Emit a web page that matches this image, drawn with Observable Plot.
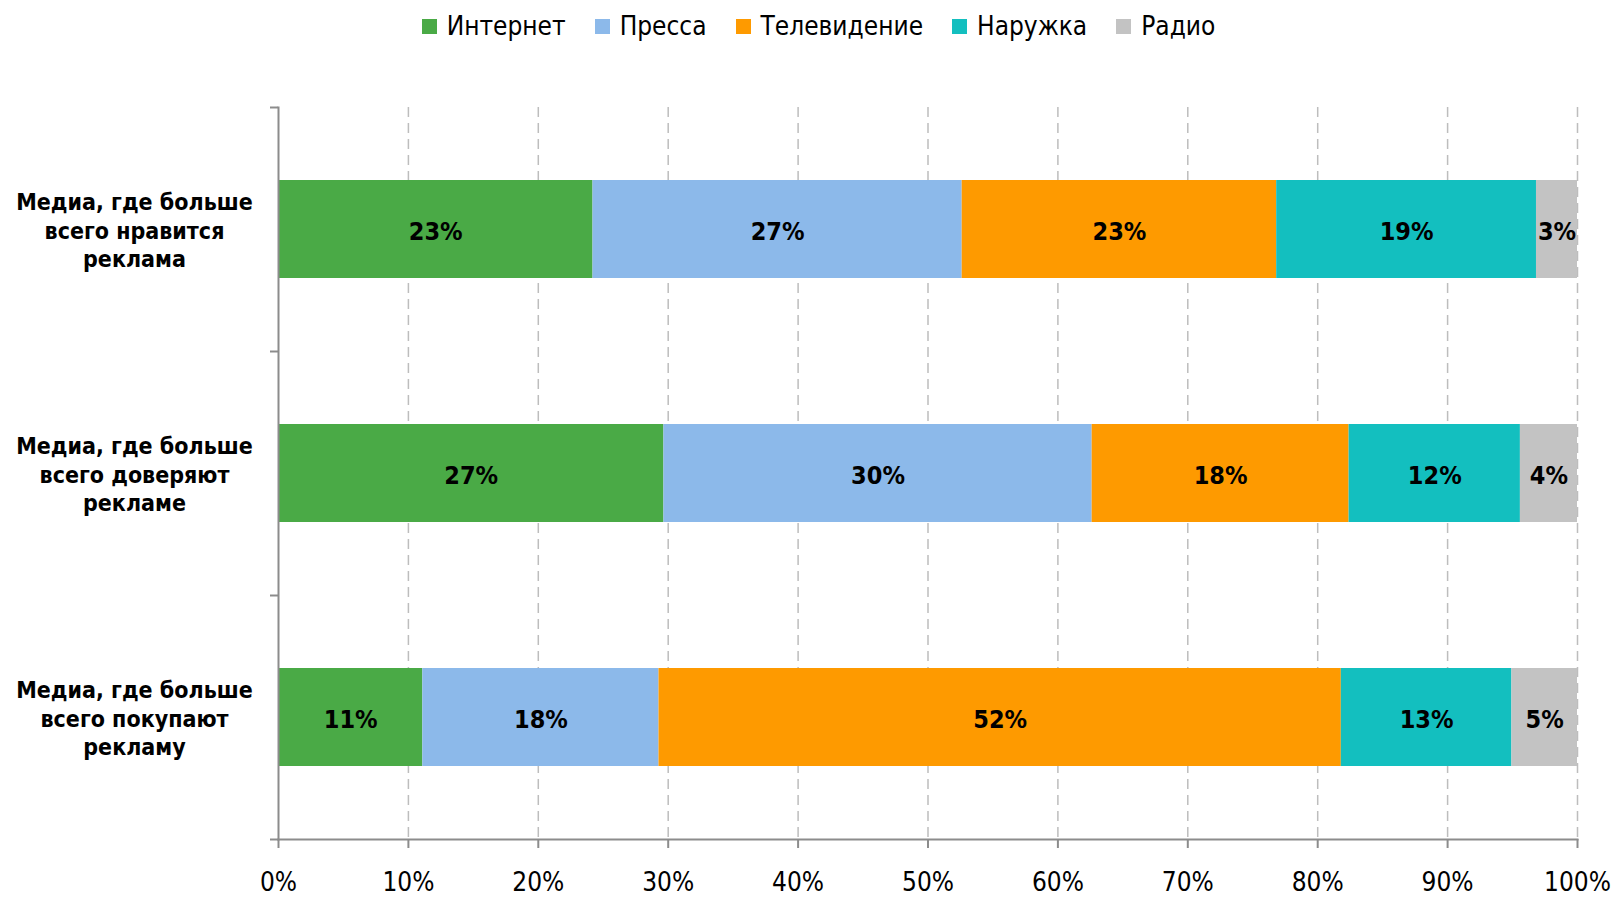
<!DOCTYPE html>
<html>
<head>
<meta charset="utf-8">
<script src="https://cdn.jsdelivr.net/npm/d3@7"></script>
<script src="https://cdn.jsdelivr.net/npm/@observablehq/plot@0.6"></script>
<style>
  html, body { margin: 0; padding: 0; background: #fff; }
  body { width: 1615px; font-family: "DejaVu Sans Condensed", "DejaVu Sans", sans-serif; }
  #legend { height: 52px; display: flex; justify-content: center; align-items: center; gap: 29px; padding-left: 22px; box-sizing: border-box; font-size: 26px; color: #000; }
  #legend .item { display: flex; align-items: center; gap: 10px; }
  #legend .sw { width: 15px; height: 15px; display: inline-block; }
  svg { display: block; }
</style>
</head>
<body>
<div id="legend"></div>
<div id="chart"></div>
<script>
const categories = [
  "Медиа, где больше\nвсего нравится\nреклама",
  "Медиа, где больше\nвсего доверяют\nрекламе",
  "Медиа, где больше\nвсего покупают\nрекламу"
];
const series = ["Интернет", "Пресса", "Телевидение", "Наружка", "Радио"];
const colors = ["#4aaa46", "#8cb9ea", "#fe9a00", "#13bfbf", "#c3c3c3"];
const internet = [23, 27, 11];
const pressa = [27, 30, 18];
const tv = [23, 18, 52];
const outdoor = [19, 12, 13];
const radio = [3, 4, 5];
const xTicks = [0, 0.1, 0.2, 0.3, 0.4, 0.5, 0.6, 0.7, 0.8, 0.9, 1];

const valuesBySeries = [internet, pressa, tv, outdoor, radio];
const data = [];
categories.forEach((c, i) => {
  series.forEach((s, j) => data.push({cat: c, series: s, value: valuesBySeries[j][i]}));
});

// legend
const legend = document.getElementById("legend");
series.forEach((s, j) => {
  const it = document.createElement("div");
  it.className = "item";
  it.innerHTML = `<span class="sw" style="background:${colors[j]}"></span><span>${s}</span>`;
  legend.appendChild(it);
});

const axisColor = "#8c8c8c";
const H = 845, mTop = 55, mBottom = 58;
const halfStep = (H - mTop - mBottom) / categories.length / 2;

const stackOpts = {offset: "normalize", x: "value", y: "cat", order: series};

const chart = Plot.plot({
  width: 1615,
  height: H,
  marginTop: mTop,
  marginBottom: mBottom,
  marginLeft: 278,
  marginRight: 38,
  style: {fontFamily: '"DejaVu Sans Condensed", "DejaVu Sans", sans-serif', background: "#fff", color: "#000"},
  x: {domain: [0, 1], axis: null, label: null},
  y: {domain: categories, paddingInner: 0.6, paddingOuter: 0.3, axis: null, label: null},
  color: {domain: series, range: colors},
  marks: [
    Plot.gridX(xTicks.slice(1), {stroke: "#bdbdbd", strokeOpacity: 1, strokeWidth: 1.5, strokeDasharray: "10,6"}),
    Plot.barX(data, Plot.stackX({...stackOpts, fill: "series"})),
    Plot.text(data, Plot.stackX({...stackOpts, z: "series", text: d => d.value + "%", fontWeight: "bold", fontSize: 25, dy: 2, fill: "#000"})),
    Plot.frame({anchor: "left", stroke: axisColor, strokeWidth: 2}),
    Plot.frame({anchor: "bottom", stroke: axisColor, strokeWidth: 2}),
    Plot.axisX(xTicks, {anchor: "bottom", label: null, tickSize: 9, tickPadding: 24, tickFormat: d3.format(".0%"), fontSize: 26, stroke: axisColor, strokeWidth: 2, fill: "#000"}),
    Plot.axisY(categories, {anchor: "left", label: null, tickSize: 8, tickFormat: () => "", dy: -halfStep, stroke: axisColor, strokeWidth: 2}),
    Plot.axisY(categories.slice(-1), {anchor: "left", label: null, tickSize: 8, tickFormat: () => "", dy: halfStep, stroke: axisColor, strokeWidth: 2}),
    Plot.text(categories, {x: () => 0, y: d => d, text: d => d, dx: -144, textAnchor: "middle", fontWeight: "bold", fontSize: 23, lineHeight: 1.25, fill: "#000"})
  ]
});
document.getElementById("chart").appendChild(chart);
</script>
</body>
</html>
